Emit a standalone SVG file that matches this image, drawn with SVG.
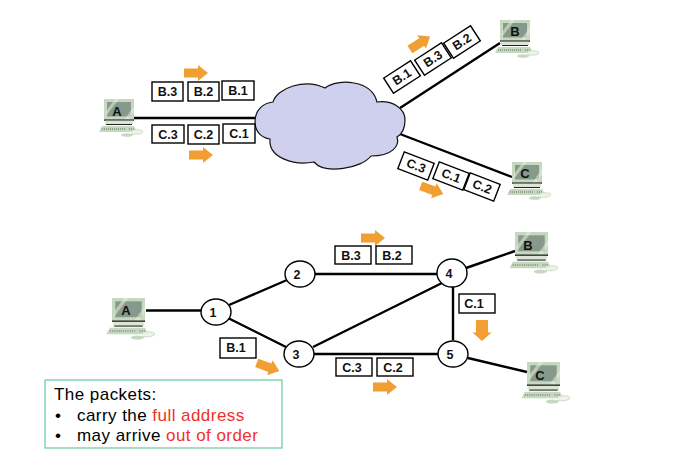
<svg xmlns="http://www.w3.org/2000/svg" width="678" height="460" viewBox="0 0 678 460">
<style>
.bg{fill:#fff}
.link{stroke:#000;stroke-width:2.4;fill:none;stroke-linecap:butt}
.box{fill:#fff;stroke:#000;stroke-width:1.4}
.lbl{font-family:"Liberation Sans",Arial,sans-serif;font-weight:700;font-size:12.5px;fill:#111;text-anchor:middle;dominant-baseline:central}
.pc{font-family:"Liberation Sans",Arial,sans-serif;font-weight:700;font-size:13px;fill:#111;text-anchor:middle;dominant-baseline:central}
.arrow{fill:#f19e33}
.node{fill:#fff;stroke:#000;stroke-width:1.4}
.note{font-family:"Liberation Sans",Arial,sans-serif;font-size:17px;letter-spacing:.45px;fill:#000}
.red{fill:#f2302a}
</style>
<defs>
<g id="computer">
<rect x="0" y="0" width="30" height="21" fill="#c6d8bf"/>
<rect x="3" y="3" width="24" height="14.500" fill="#87998a"/>
<path d="M20 21L30 7V12L25 21ZM2 12L11 0H15L2 17Z" fill="#e6efe0" opacity=".55"/>
<rect x="0" y="20.500" width="30" height="1.200" fill="#111"/>
<rect x="1" y="21.700" width="28" height="3.300" fill="#dbe6d6"/>
<rect x="2" y="25" width="26" height="1" fill="#222"/>
<path d="M-2 27H30L33 33H-5Z" fill="#c6d8bf"/>
<path d="M-2 30H22M25 30H30" stroke="#7d907a" stroke-width="1.500" stroke-dasharray="1 1"/>
<path d="M29 31Q39 30 39 33Q37 36 27 35" fill="#eef3ea" stroke="#c6d8bf" stroke-width=".8"/>
<ellipse cx="23" cy="36" rx="6" ry="1.800" fill="#c6d8bf"/>
</g>
<path id="arr" class="arrow" d="M-12 -4.500H2V-8L12 0L2 8V4.500H-12Z"/>
<path id="arr-big" class="arrow" d="M-10.500 -6H2V-9.500L10.500 0L2 9.500V6H-10.500Z"/>
</defs>
<rect class="bg" width="678" height="460"/>

<g id="connectors">
<path class="link" d="M134 118H258"/>
<path class="link" d="M400 108L500 43"/>
<path class="link" d="M400 134L512 177"/>
<path class="link" d="M146 310.500H201"/>
<path class="link" d="M229 305L287 280"/>
<path class="link" d="M228 318L286 347"/>
<path class="link" d="M315 274H437"/>
<path class="link" d="M313 347L442 283"/>
<path class="link" d="M314 354H438"/>
<path class="link" d="M453 287V340"/>
<path class="link" d="M466 268L515 251"/>
<path class="link" d="M468 358L527 372"/>
</g>

<g id="cloud">
<path d="M255 122C255 110 263 103 273 102C277 88 305 78 325 88C338 78 372 80 377 102C392 100 405 108 405 120C405 128 402 134 397 137C400 146 392 156 371 156C362 168 325 175 314 162C295 166 268 158 270 139C262 138 255 132 255 122Z" fill="#cfd0ee" stroke="#111" stroke-width="1.200"/>
</g>

<g id="pc-a-top"><use href="#computer" x="104" y="99"/><text class="pc" x="117" y="111">A</text></g>
<g id="pc-b-top"><use href="#computer" x="500" y="20"/><text class="pc" x="515" y="31">B</text></g>
<g id="pc-c-top"><use href="#computer" x="512" y="162"/><text class="pc" x="525" y="173">C</text></g>
<g id="pc-a-bottom"><use href="#computer" transform="translate(112 298) scale(1.100)"/><text class="pc" x="126" y="310">A</text></g>
<g id="pc-b-bottom"><use href="#computer" transform="translate(515 232) scale(1.100)"/><text class="pc" x="528" y="245">B</text></g>
<g id="pc-c-bottom"><use href="#computer" transform="translate(527 362) scale(1.100)"/><text class="pc" x="540" y="375">C</text></g>

<g id="packets-top">
<g id="p-b3"><rect class="box" x="152" y="82" width="31" height="19"/><text class="lbl" x="167.500" y="92">B.3</text></g>
<g id="p-b2"><rect class="box" x="188" y="82" width="31" height="19"/><text class="lbl" x="203.500" y="92">B.2</text></g>
<g id="p-b1"><rect class="box" x="222" y="81" width="32" height="19"/><text class="lbl" x="238" y="91">B.1</text></g>
<g id="p-c3"><rect class="box" x="152" y="125" width="32" height="18"/><text class="lbl" x="168" y="135">C.3</text></g>
<g id="p-c2"><rect class="box" x="188" y="125" width="31" height="19"/><text class="lbl" x="203.500" y="135">C.2</text></g>
<g id="p-c1"><rect class="box" x="223" y="124" width="32" height="19"/><text class="lbl" x="239" y="134">C.1</text></g>
<g transform="translate(402 77) rotate(-33)"><rect class="box" x="-16" y="-9" width="32" height="18"/><text class="lbl" y="0">B.1</text></g>
<g transform="translate(433 59) rotate(-33)"><rect class="box" x="-16" y="-9" width="32" height="18"/><text class="lbl" y="0">B.3</text></g>
<g transform="translate(462 42) rotate(-33)"><rect class="box" x="-16" y="-9" width="32" height="18"/><text class="lbl" y="0">B.2</text></g>
<g transform="translate(416 166) rotate(21)"><rect class="box" x="-16" y="-9" width="32" height="18"/><text class="lbl" y="0">C.3</text></g>
<g transform="translate(451 176) rotate(21)"><rect class="box" x="-16" y="-9" width="32" height="18"/><text class="lbl" y="0">C.1</text></g>
<g transform="translate(482 187) rotate(21)"><rect class="box" x="-16" y="-9" width="32" height="18"/><text class="lbl" y="0">C.2</text></g>
</g>

<g id="flow-arrows">
<use href="#arr" transform="translate(196 73)"/>
<use href="#arr" transform="translate(201 155)"/>
<use href="#arr" transform="translate(420 43) rotate(-33)"/>
<use href="#arr" transform="translate(432 190) rotate(20)"/>
<use href="#arr" transform="translate(373 238)"/>
<use href="#arr" transform="translate(385 387)"/>
<use href="#arr" transform="translate(268 367) rotate(20)"/>
<use href="#arr-big" transform="translate(482 330.500) rotate(90)"/>
</g>

<g id="node-1"><ellipse class="node" cx="216" cy="312" rx="15" ry="13"/><text class="lbl" x="213" y="313">1</text></g>
<g id="node-2"><ellipse class="node" cx="300" cy="274" rx="15" ry="13"/><text class="lbl" x="297" y="275">2</text></g>
<g id="node-3"><ellipse class="node" cx="299" cy="354" rx="15" ry="13"/><text class="lbl" x="296" y="355">3</text></g>
<g id="node-4"><ellipse class="node" cx="452" cy="273" rx="15" ry="14"/><text class="lbl" x="449" y="274">4</text></g>
<g id="node-5"><ellipse class="node" cx="453" cy="354" rx="15" ry="13"/><text class="lbl" x="450" y="355">5</text></g>

<g id="packets-bottom">
<g id="q-b3"><rect class="box" x="335" y="246" width="36" height="18"/><text class="lbl" x="351" y="255.500">B.3</text></g>
<g id="q-b2"><rect class="box" x="376" y="246" width="36" height="18"/><text class="lbl" x="392" y="255.500">B.2</text></g>
<g id="q-c3"><rect class="box" x="336" y="358" width="36" height="18"/><text class="lbl" x="352" y="367.500">C.3</text></g>
<g id="q-c2"><rect class="box" x="377" y="358" width="36" height="18"/><text class="lbl" x="393" y="367.500">C.2</text></g>
<g id="q-b1"><rect class="box" x="220" y="338" width="36" height="20"/><text class="lbl" x="236" y="348">B.1</text></g>
<g id="q-c1"><rect class="box" x="459" y="294" width="36" height="19"/><text class="lbl" x="474" y="304">C.1</text></g>
</g>

<g id="note">
<rect x="45" y="380" width="237" height="68" fill="#fff" stroke="#66cc99" stroke-width="1.200"/>
<text class="note" x="54" y="400">The packets:</text>
<text class="note" x="55" y="420.500">•</text>
<text class="note" x="77" y="420.500">carry the <tspan class="red">full address</tspan></text>
<text class="note" x="55" y="441">•</text>
<text class="note" x="77" y="441">may arrive <tspan class="red">out of order</tspan></text>
</g>
</svg>
